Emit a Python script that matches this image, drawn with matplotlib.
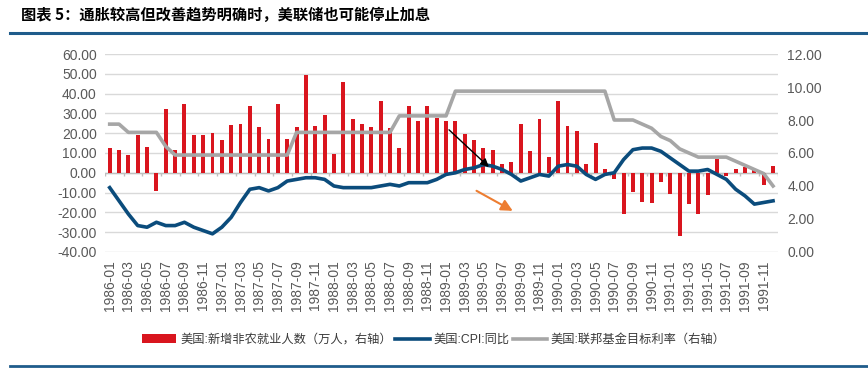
import numpy as np
import matplotlib
matplotlib.use("Agg")
import matplotlib.pyplot as plt
from matplotlib.lines import Line2D

plt.rcParams['font.family'] = ['Liberation Sans', 'Noto Sans CJK SC', 'DejaVu Sans']
plt.rcParams['axes.unicode_minus'] = False

# monthly labels 1986-01 .. 1991-12
months = ["%d-%02d" % (y, m) for y in range(1986, 1992) for m in range(1, 13)]

# nonfarm payrolls change (10k persons), left axis
nfp = [12.4, 11.3, 8.8, 18.9, 12.8, -9.3, 32.0, 11.3, 34.5, 18.9, 18.9, 19.9,
       16.8, 23.9, 24.4, 33.5, 22.9, 17.3, 34.5, 17.3, 22.9, 49.3, 23.4, 29.0,
       9.3, 46.1, 27.4, 24.4, 22.9, 36.5, 22.4, 12.3, 33.7, 26.4, 33.7, 27.9,
       26.4, 26.4, 19.4, 16.8, 12.3, 11.3, 4.2, 5.2, 24.9, 10.8, 27.4, 8.2,
       36.5, 23.4, 20.9, 4.2, 15.3, 1.7, -3.2, -20.9, -9.8, -14.8, -15.3, -4.7,
       -10.6, -32.0, -15.8, -20.9, -11.3, 7.2, -1.7, 1.7, 2.9, 1.2, -6.2, 3.4]

# CPI yoy (%), right axis
cpi = [3.9, 3.1, 2.3, 1.6, 1.5, 1.8, 1.6, 1.6, 1.8, 1.5, 1.3, 1.1,
       1.5, 2.1, 3.0, 3.8, 3.9, 3.7, 3.9, 4.3, 4.4, 4.5, 4.5, 4.4,
       4.0, 3.9, 3.9, 3.9, 3.9, 4.0, 4.1, 4.0, 4.2, 4.2, 4.2, 4.4,
       4.7, 4.8, 5.0, 5.1, 5.3, 5.2, 5.0, 4.7, 4.3, 4.5, 4.7, 4.6,
       5.2, 5.3, 5.2, 4.7, 4.4, 4.7, 4.8, 5.6, 6.2, 6.3, 6.3, 6.1,
       5.7, 5.3, 4.9, 4.9, 5.0, 4.7, 4.4, 3.8, 3.4, 2.9, 3.0, 3.1]

# fed funds target (%), right axis
fed = [7.75, 7.75, 7.25, 7.25, 7.25, 7.25, 6.4, 5.875, 5.875, 5.875, 5.875, 5.875,
       5.875, 5.875, 5.875, 5.875, 5.875, 5.875, 5.875, 5.875, 7.25, 7.25, 7.25, 7.25,
       7.25, 7.25, 7.25, 7.25, 7.25, 7.25, 7.25, 8.25, 8.25, 8.25, 8.25, 8.25,
       8.25, 9.75, 9.75, 9.75, 9.75, 9.75, 9.75, 9.75, 9.75, 9.75, 9.75, 9.75,
       9.75, 9.75, 9.75, 9.75, 9.75, 9.75, 8.0, 8.0, 8.0, 7.75, 7.5, 7.0,
       6.75, 6.25, 6.0, 5.75, 5.75, 5.75, 5.75, 5.5, 5.25, 5.0, 4.75, 4.0]

title = "图表 5：通胀较高但改善趋势明确时，美联储也可能停止加息"
lab_nfp = "美国:新增非农就业人数（万人，右轴）"
lab_cpi = "美国:CPI:同比"
lab_fed = "美国:联邦基金目标利率（右轴）"

RED = "#D9151E"
BLUE = "#0B4C7C"
GRAY = "#A6A6A6"
TXT = "#595959"

x = np.arange(len(months))

fig = plt.figure(figsize=(8.68, 3.70), dpi=100)
ax = fig.add_axes([0.121, 0.319, 0.775, 0.535])
ax2 = ax.twinx()

ax.bar(x, nfp, width=0.42, color=RED, label=lab_nfp, zorder=2)
ax.set_ylim(-40, 60)
ax.set_yticks(np.arange(-40, 61, 10))
ax.set_yticklabels(["%.2f" % v for v in np.arange(-40, 61, 10)])
ax.set_xlim(-0.5, len(months) - 0.5)
ax.grid(axis='y', color="#D9D9D9", lw=1)
ax.set_axisbelow(True)
ax.axhline(0, color="#BFBFBF", lw=1, zorder=1)
ax.vlines(np.arange(-0.5, len(months), 2), -1.8, 0, color="#BFBFBF", lw=1, zorder=1)

ax.set_xticks(x[::2])
ax.set_xticklabels(months[::2], rotation=90)
ax.tick_params(axis='x', length=0, pad=6, labelsize=10, labelcolor=TXT)
ax.tick_params(axis='y', length=0, pad=6, labelsize=10, labelcolor=TXT)

ax2.plot(x, cpi, color=BLUE, lw=2.6, label=lab_cpi, solid_joinstyle='round')
ax2.plot(x, fed, color=GRAY, lw=2.6, label=lab_fed)
ax2.set_ylim(0, 12)
ax2.set_yticks(np.arange(0, 13, 2))
ax2.set_yticklabels(["%.2f" % v for v in np.arange(0, 13, 2)])
ax2.tick_params(axis='y', length=0, pad=7, labelsize=10, labelcolor=TXT)

for a in (ax, ax2):
    for s in a.spines.values():
        s.set_visible(False)

# arrows
ax2.annotate("", xy=(40.8, 5.04), xytext=(36.1, 7.52),
             arrowprops=dict(arrowstyle="-|>", color="black", lw=1, mutation_scale=12))
ax2.annotate("", xy=(43.4, 2.41), xytext=(39.0, 3.79),
             arrowprops=dict(arrowstyle="-|>", color="#ED7D31", lw=1.5, mutation_scale=17))

# legend
h1, l1 = ax.get_legend_handles_labels()
h2, l2 = ax2.get_legend_handles_labels()
fig.legend(h1 + h2, l1 + l2, loc='center', bbox_to_anchor=(0.5, 0.081), ncol=3,
           frameon=False, fontsize=8.8, handlelength=2.8, handletextpad=0.3,
           columnspacing=0.3, labelcolor="#3A3A3A")

fig.text(0.024, 0.96, title, fontsize=11, fontweight='bold', va='center', ha='left',
         family=['Noto Sans CJK SC'])
fig.add_artist(Line2D([0.012, 1.0], [0.91, 0.91], color="#1F5C8B", lw=2.2,
                      transform=fig.transFigure))
fig.add_artist(Line2D([0.012, 1.0], [0.012, 0.012], color="#1F5C8B", lw=2.0,
                      transform=fig.transFigure))

fig.savefig("out.png", dpi=100)
